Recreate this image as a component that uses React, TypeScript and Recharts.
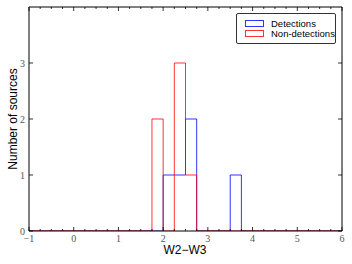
import React from "react";
import { ComposedChart, Line, XAxis, YAxis } from "recharts";

// Histogram bin edges (left edge of each bin run) and counts in each run
const binEdges = [-1, 1.75, 2.0, 2.25, 2.5, 2.75, 3.5, 3.75, 6];
const detections = [0, 0, 1, 1, 2, 0, 1, 0, 0];
const nonDetections = [0, 2, 0, 3, 1, 0, 0, 0, 0];

const xMajorTicks = [-1, 0, 1, 2, 3, 4, 5, 6];
const xMinorTicks = [
  -0.75, -0.5, -0.25, 0.25, 0.5, 0.75, 1.25, 1.5, 1.75, 2.25, 2.5, 2.75,
  3.25, 3.5, 3.75, 4.25, 4.5, 4.75, 5.25, 5.5, 5.75,
];
const yTicks = [0, 1, 2, 3];
const xLabel = "W2\u2212W3";
const yLabel = "Number of sources";
const seriesNames = ["Detections", "Non-detections"];

const detData = binEdges.map((x, i) => ({ x, y: detections[i] }));
const nonData = binEdges.map((x, i) => ({ x, y: nonDetections[i] }));
const allXTicks = [...xMajorTicks, ...xMinorTicks].sort((a, b) => a - b);

const fmt = (v: number) => (v < 0 ? "\u2212" + Math.abs(v) : String(v));
const tickFont = "'Liberation Serif', 'DejaVu Serif', serif";
const tickColor = "#555";

const BottomTick = (p: any) => {
  const v = p.payload.value;
  const major = xMajorTicks.includes(v);
  return (
    <g>
      <line x1={p.x} x2={p.x} y1={p.y} y2={p.y - (major ? 4 : 2)} stroke="#000" strokeWidth={0.8} />
      {major && (
        <text x={p.x} y={p.y + 11} textAnchor="middle" fontSize={10} fontFamily={tickFont} fill={tickColor}>
          {fmt(v)}
        </text>
      )}
    </g>
  );
};
const TopTick = (p: any) => {
  const v = p.payload.value;
  const major = xMajorTicks.includes(v);
  return <line x1={p.x} x2={p.x} y1={p.y} y2={p.y + (major ? 4 : 2)} stroke="#000" strokeWidth={0.8} />;
};
const LeftTick = (p: any) => (
  <g>
    <line x1={p.x} x2={p.x + 4} y1={p.y} y2={p.y} stroke="#000" strokeWidth={0.8} />
    <text x={p.x - 4} y={p.y + 3.5} textAnchor="end" fontSize={10} fontFamily={tickFont} fill={tickColor}>
      {fmt(p.payload.value)}
    </text>
  </g>
);
const RightTick = (p: any) => (
  <line x1={p.x} x2={p.x - 4} y1={p.y} y2={p.y} stroke="#000" strokeWidth={0.8} />
);

const LegendBox = () => (
  <div
    style={{
      position: "absolute",
      left: 236,
      top: 13,
      width: 100,
      height: 31,
      border: "1px solid #333",
      borderRadius: 2,
      background: "#fff",
      boxSizing: "border-box",
      fontFamily: "'Liberation Sans', Arial, sans-serif",
      fontSize: 9.5,
      color: "#000",
    }}
  >
    {seriesNames.map((n, i) => (
      <div key={n} style={{ position: "absolute", left: 8, top: 5 + i * 9.5, height: 9, display: "flex", alignItems: "center" }}>
        <div
          style={{
            width: 17,
            height: 5,
            border: `1px solid ${i === 0 ? "rgba(0,0,255,0.8)" : "rgba(255,0,0,0.8)"}`,
            marginRight: 7,
          }}
        />
        <span style={{ lineHeight: "9px" }}>{n}</span>
      </div>
    ))}
  </div>
);

export default function App() {
  return (
    <div style={{ position: "absolute", left: 0, top: 0, width: 352, height: 264, background: "#fff" }}>
      <ComposedChart width={352} height={264} data={detData} margin={{ top: 6, right: 9, left: 28, bottom: 32 }}>
        <XAxis
          xAxisId="b"
          type="number"
          dataKey="x"
          domain={[-1, 6]}
          ticks={allXTicks}
          interval={0}
          height={1}
          tickSize={0}
          tickMargin={0}
          tickLine={false}
          tick={<BottomTick />}
          axisLine={{ stroke: "#000", strokeWidth: 1 }}
          allowDataOverflow
        />
        <XAxis
          xAxisId="t"
          orientation="top"
          type="number"
          dataKey="x"
          domain={[-1, 6]}
          ticks={allXTicks}
          interval={0}
          height={1}
          tickSize={0}
          tickMargin={0}
          tickLine={false}
          tick={<TopTick />}
          axisLine={{ stroke: "#000", strokeWidth: 1 }}
          allowDataOverflow
        />
        <YAxis
          yAxisId="l"
          type="number"
          domain={[0, 4]}
          ticks={yTicks}
          interval={0}
          width={1}
          tickSize={0}
          tickMargin={0}
          tickLine={false}
          tick={<LeftTick />}
          axisLine={{ stroke: "#000", strokeWidth: 1 }}
          allowDataOverflow
        />
        <YAxis
          yAxisId="r"
          orientation="right"
          type="number"
          domain={[0, 4]}
          ticks={yTicks}
          interval={0}
          width={1}
          tickSize={0}
          tickMargin={0}
          tickLine={false}
          tick={<RightTick />}
          axisLine={{ stroke: "#000", strokeWidth: 1 }}
          allowDataOverflow
        />
        <Line
          xAxisId="b"
          yAxisId="l"
          data={detData}
          dataKey="y"
          type="stepAfter"
          stroke="#0000ff"
          strokeOpacity={0.8}
          strokeWidth={1}
          dot={false}
          activeDot={false}
          isAnimationActive={false}
          name={seriesNames[0]}
        />
        <Line
          xAxisId="t"
          yAxisId="r"
          data={nonData}
          dataKey="y"
          type="stepAfter"
          stroke="#ff0000"
          strokeOpacity={0.8}
          strokeWidth={1}
          dot={false}
          activeDot={false}
          isAnimationActive={false}
          name={seriesNames[1]}
        />
        <text x={185} y={254} textAnchor="middle" fontSize={12} fontFamily="'Liberation Sans', Arial, sans-serif" fill="#000">
          {xLabel}
        </text>
        <text
          x={17}
          y={119}
          textAnchor="middle"
          fontSize={12}
          fontFamily="'Liberation Sans', Arial, sans-serif"
          fill="#000"
          transform="rotate(-90 17 119)"
        >
          {yLabel}
        </text>
      </ComposedChart>
      <LegendBox />
    </div>
  );
}
